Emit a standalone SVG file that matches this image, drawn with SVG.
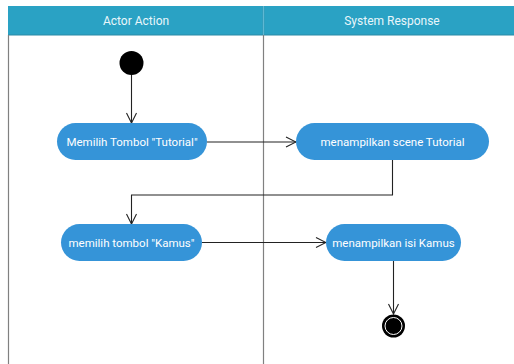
<svg xmlns="http://www.w3.org/2000/svg" width="514" height="364" viewBox="0 0 514 364">
  <defs>
    <style>
      .lane-line { stroke: #808080; stroke-width: 1.2; fill: none; }
      .hdr { fill: #2aa2c4; }
      .hdr-text { fill: #e8f6fb; font-family: Roboto, "Liberation Sans", sans-serif; font-size: 12px; text-anchor: middle; }
      .node rect { fill: #3594d8; }
      .node text { fill: #ffffff; font-family: Roboto, "Liberation Sans", sans-serif; font-size: 11.5px; text-anchor: middle; dominant-baseline: central; }
      .edge { stroke: #222222; stroke-width: 1.1; fill: none; marker-end: url(#open-arrow); }
    </style>
    <marker id="open-arrow" viewBox="0 0 12 12" refX="11" refY="6" markerWidth="12" markerHeight="12" markerUnits="userSpaceOnUse" orient="auto">
      <path d="M1,1 L11,6 L1,11" fill="none" stroke="#222222" stroke-width="1.1"/>
    </marker>
  </defs>

  <rect x="0" y="0" width="514" height="364" fill="#ffffff"/>

  <!-- swimlane header and lane borders -->
  <g id="lanes">
    <rect class="hdr" x="8" y="6" width="506" height="29"/>
    <line x1="8" y1="35" x2="514" y2="35" stroke="#2a8aa6" stroke-width="1"/>
    <text class="hdr-text" x="136" y="25">Actor Action</text>
    <text class="hdr-text" x="392" y="25">System Response</text>
    <line class="lane-line" x1="8.5" y1="35" x2="8.5" y2="364"/>
    <line class="lane-line" x1="263.5" y1="6" x2="263.5" y2="364"/>
    <line x1="263.5" y1="6" x2="263.5" y2="35" stroke="#5fb8d3" stroke-width="1"/>
  </g>

  <!-- connectors -->
  <g id="connectors">
    <path class="edge" d="M131.5,75 L131.5,123"/>
    <path class="edge" d="M207,142 L296,142"/>
    <path class="edge" d="M392.5,160 L392.5,195 L131.5,195 L131.5,224"/>
    <path class="edge" d="M202,242.5 L326,242.5"/>
    <path class="edge" d="M393.5,261 L393.5,314"/>
  </g>

  <!-- start node -->
  <g id="start">
    <circle cx="131.5" cy="63" r="12" fill="#000000"/>
  </g>

  <g id="n1" class="node">
    <rect x="57" y="123" width="150" height="37" rx="18.5"/>
    <text x="132" y="141.5">Memilih Tombol "Tutorial"</text>
  </g>

  <g id="n2" class="node">
    <rect x="296" y="123" width="193" height="37" rx="18.5"/>
    <text x="392.5" y="141.5">menampilkan scene Tutorial</text>
  </g>

  <g id="n3" class="node">
    <rect x="61" y="224" width="141" height="37" rx="18.5"/>
    <text x="131.5" y="242.5">memilih tombol "Kamus"</text>
  </g>

  <g id="n4" class="node">
    <rect x="326" y="224" width="135" height="37" rx="18.5"/>
    <text x="393.5" y="242.5">menampilkan isi Kamus</text>
  </g>

  <!-- final node -->
  <g id="end">
    <circle cx="393.5" cy="326" r="11.5" fill="#000000"/>
    <circle cx="393.5" cy="326" r="8.5" fill="none" stroke="#ffffff" stroke-width="1"/>
  </g>
</svg>
